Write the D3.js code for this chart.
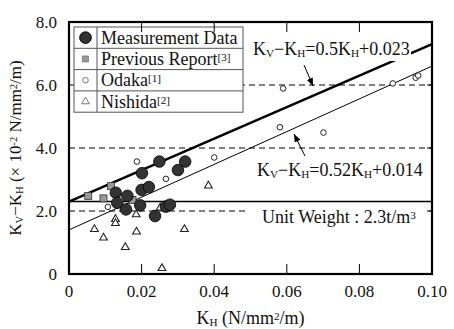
<!DOCTYPE html>
<html>
<head>
<meta charset="utf-8">
<script src="https://cdn.jsdelivr.net/npm/d3@7"></script>
<style>
  body { margin: 0; background: #fff; }
  svg text { font-family: "Liberation Serif", "Times New Roman", serif; fill: #111; }
</style>
</head>
<body>
<div id="chart"></div>
<script>
// data (x in N/mm2/m, y in 10^-2 N/mm2/m)
var measX = [0.0249, 0.0320, 0.0300, 0.0201, 0.0200, 0.0220, 0.0129, 0.0161, 0.0133, 0.0157, 0.0196, 0.0267, 0.0278, 0.0237];
var measY = [3.57, 3.57, 3.30, 3.20, 2.67, 2.76, 2.58, 2.48, 2.26, 2.05, 2.18, 2.14, 2.20, 1.84];

var prevX = [0.0053, 0.0095, 0.0116, 0.0175];
var prevY = [2.48, 2.40, 2.79, 2.35];

var odakaX = [0.0187, 0.0267, 0.0400, 0.0107, 0.0581, 0.0590, 0.0701, 0.0892, 0.0955, 0.0962];
var odakaY = [3.57, 3.02, 3.70, 2.13, 4.66, 5.89, 4.49, 6.05, 6.23, 6.30];

var nishidaX = [0.0384, 0.0251, 0.0185, 0.0128, 0.0128, 0.0070, 0.0186, 0.0318, 0.0095, 0.0155, 0.0256];
var nishidaY = [2.80, 2.10, 1.89, 1.74, 1.61, 1.42, 1.34, 1.42, 1.15, 0.85, 0.18];

// fitted lines, end points
var fitThick = [[0, 2.3], [0.1, 7.3]];
var fitThin = [[0, 1.4], [0.1, 6.6]];

var dashedLevels = [2, 4, 6];
var unitWeight = 2.3;

var xTicks = [0, 0.02, 0.04, 0.06, 0.08, 0.10];
var yTicks = [0, 2, 4, 6, 8];

var legendNames = ['Measurement Data', 'Previous Report', 'Odaka', 'Nishida'];
var legendRefs = ['', '[3]', '[1]', '[2]'];

var width = 454, height = 329;
var margin = {top: 22, right: 22, bottom: 55, left: 69};

var svg = d3.select('#chart').append('svg')
    .attr('width', width)
    .attr('height', height);

var xScale = d3.scaleLinear().domain([0, 0.1]).range([margin.left, width - margin.right]);
var yScale = d3.scaleLinear().domain([0, 8]).range([height - margin.bottom, margin.top]);

// helper: text with subscripts / superscripts
function richText(g, x, y, parts, size) {
    var t = g.append('text').attr('x', x).attr('y', y).style('font-size', size + 'px');
    parts.forEach(function(p) {
        var s = t.append('tspan').text(p.t);
        if (p.sub) s.attr('baseline-shift', '-22%').style('font-size', (size * 0.62) + 'px');
        if (p.sup) s.attr('baseline-shift', '38%').style('font-size', (size * 0.62) + 'px');
    });
    return t;
}

// reference lines
svg.append('g').selectAll('line')
    .data(dashedLevels).enter().append('line')
    .attr('x1', xScale(0)).attr('x2', xScale(0.1))
    .attr('y1', function(d) { return yScale(d); })
    .attr('y2', function(d) { return yScale(d); })
    .attr('stroke', '#000').attr('stroke-width', 1)
    .attr('stroke-dasharray', '6,4');

svg.append('line')
    .attr('x1', xScale(0)).attr('x2', xScale(0.1))
    .attr('y1', yScale(unitWeight)).attr('y2', yScale(unitWeight))
    .attr('stroke', '#000').attr('stroke-width', 1.5);

// fit lines
var line = d3.line()
    .x(function(d) { return xScale(d[0]); })
    .y(function(d) { return yScale(d[1]); });

svg.append('path').datum(fitThick).attr('d', line)
    .attr('fill', 'none').attr('stroke', '#000').attr('stroke-width', 2.5);
svg.append('path').datum(fitThin).attr('d', line)
    .attr('fill', 'none').attr('stroke', '#000').attr('stroke-width', 1);

// points
var tri = d3.symbol().type(d3.symbolTriangle).size(26);

svg.append('g').selectAll('path')
    .data(d3.range(nishidaX.length)).enter().append('path')
    .attr('d', tri)
    .attr('transform', function(i) { return 'translate(' + xScale(nishidaX[i]) + ',' + yScale(nishidaY[i]) + ')'; })
    .attr('fill', '#fff').attr('stroke', '#222').attr('stroke-width', 1.1);

svg.append('g').selectAll('circle')
    .data(d3.range(odakaX.length)).enter().append('circle')
    .attr('cx', function(i) { return xScale(odakaX[i]); })
    .attr('cy', function(i) { return yScale(odakaY[i]); })
    .attr('r', 2.8)
    .attr('fill', '#fff').attr('stroke', '#222').attr('stroke-width', 1);

svg.append('g').selectAll('rect')
    .data(d3.range(prevX.length)).enter().append('rect')
    .attr('x', function(i) { return xScale(prevX[i]) - 3.5; })
    .attr('y', function(i) { return yScale(prevY[i]) - 3.5; })
    .attr('width', 7).attr('height', 7)
    .attr('fill', '#999').attr('stroke', '#333').attr('stroke-width', 0.8);

svg.append('g').selectAll('circle')
    .data(d3.range(measX.length)).enter().append('circle')
    .attr('cx', function(i) { return xScale(measX[i]); })
    .attr('cy', function(i) { return yScale(measY[i]); })
    .attr('r', 5.8)
    .attr('fill', '#333').attr('stroke', '#000').attr('stroke-width', 0.8);

// annotations with white backing
var ann = svg.append('g');
ann.append('rect').attr('x', 250).attr('y', 32).attr('width', 161).attr('height', 29).attr('fill', '#fff');
richText(ann, 253, 55, [{t:'K'},{t:'V',sub:true},{t:'\u2212K'},{t:'H',sub:true},{t:'=0.5K'},{t:'H',sub:true},{t:'+0.023'}], 18);

richText(ann, 257, 176, [{t:'K'},{t:'V',sub:true},{t:'\u2212K'},{t:'H',sub:true},{t:'=0.52K'},{t:'H',sub:true},{t:'+0.014'}], 18);

ann.append('rect').attr('x', 245).attr('y', 206).attr('width', 183).attr('height', 22).attr('fill', '#fff');
richText(ann, 262, 223, [{t:'Unit Weight : 2.3t/m'},{t:'3',sup:true}], 18);

// arrows
svg.append('defs').append('marker')
    .attr('id', 'ah').attr('viewBox', '0 0 10 10')
    .attr('refX', 10).attr('refY', 5)
    .attr('markerWidth', 8).attr('markerHeight', 8)
    .attr('orient', 'auto')
    .append('path').attr('d', 'M0,1 L10,5 L0,9 Z').attr('fill', '#000');

svg.append('line').attr('x1', 304).attr('y1', 65).attr('x2', 313).attr('y2', 86)
    .attr('stroke', '#000').attr('stroke-width', 1).attr('marker-end', 'url(#ah)');
svg.append('line').attr('x1', 305).attr('y1', 156).attr('x2', 294).attr('y2', 134)
    .attr('stroke', '#000').attr('stroke-width', 1).attr('marker-end', 'url(#ah)');

// legend
var lg = svg.append('g');
var lgX = 74, lgY = 27, rowH = 21.3, lgW = 169, colW = 23;
lg.append('rect').attr('x', lgX).attr('y', lgY).attr('width', lgW).attr('height', rowH * 4)
    .attr('fill', '#fff').attr('stroke', '#555').attr('stroke-width', 1);
lg.selectAll('line.row').data([1, 2, 3]).enter().append('line')
    .attr('x1', lgX).attr('x2', lgX + lgW)
    .attr('y1', function(d) { return lgY + d * rowH; })
    .attr('y2', function(d) { return lgY + d * rowH; })
    .attr('stroke', '#555').attr('stroke-width', 1);
lg.append('line').attr('x1', lgX + colW).attr('x2', lgX + colW)
    .attr('y1', lgY).attr('y2', lgY + rowH * 4)
    .attr('stroke', '#555').attr('stroke-width', 1);

var mx = lgX + colW / 2;
function rowC(i) { return lgY + rowH * i + rowH / 2; }
lg.append('circle').attr('cx', mx).attr('cy', rowC(0)).attr('r', 5.8).attr('fill', '#333').attr('stroke', '#000');
lg.append('rect').attr('x', mx - 3).attr('y', rowC(1) - 3).attr('width', 6).attr('height', 6).attr('fill', '#999').attr('stroke', '#666').attr('stroke-width', 0.6);
lg.append('circle').attr('cx', mx).attr('cy', rowC(2)).attr('r', 2.8).attr('fill', '#fff').attr('stroke', '#777');
lg.append('path').attr('d', tri).attr('transform', 'translate(' + mx + ',' + rowC(3) + ')').attr('fill', '#fff').attr('stroke', '#777');

legendNames.forEach(function(n, i) {
    richText(lg, lgX + colW + 4, rowC(i) + 6, [{t:n},{t:legendRefs[i],sup:true}], 18);
});

// frame and ticks
var x0 = xScale(0), x1 = xScale(0.1), y0 = yScale(0), y1 = yScale(8);
svg.append('g').selectAll('line.xt')
    .data(xTicks.slice(1, -1)).enter().append('g')
    .each(function(d) {
        var g = d3.select(this);
        g.append('line').attr('x1', xScale(d)).attr('x2', xScale(d)).attr('y1', y0).attr('y2', y0 - 10).attr('stroke', '#000');
        g.append('line').attr('x1', xScale(d)).attr('x2', xScale(d)).attr('y1', y1).attr('y2', y1 + 10).attr('stroke', '#000');
    });
svg.append('g').selectAll('line.yt')
    .data(yTicks.slice(1, -1)).enter().append('line')
    .attr('x1', x1).attr('x2', x1 - 5)
    .attr('y1', function(d) { return yScale(d); })
    .attr('y2', function(d) { return yScale(d); })
    .attr('stroke', '#000');

svg.append('rect').attr('x', x0).attr('y', y1).attr('width', x1 - x0).attr('height', y0 - y1)
    .attr('fill', 'none').attr('stroke', '#000').attr('stroke-width', 2.2);

// tick labels
svg.append('g').selectAll('text')
    .data(xTicks).enter().append('text')
    .attr('x', function(d) { return xScale(d); })
    .attr('y', y0 + 23)
    .attr('text-anchor', 'middle')
    .style('font-size', '17px')
    .text(function(d) { return d === 0 ? '0' : d.toFixed(2); });

svg.append('g').selectAll('text')
    .data(yTicks).enter().append('text')
    .attr('x', x0 - 12)
    .attr('y', function(d) { return yScale(d) + 6; })
    .attr('text-anchor', 'end')
    .style('font-size', '17px')
    .text(function(d) { return d === 0 ? '0' : d.toFixed(1); });

// axis titles
var xt = richText(svg, 0, 0, [{t:'K'},{t:'H',sub:true},{t:' (N/mm'},{t:'2',sup:true},{t:'/m)'}], 18);
xt.attr('text-anchor', 'middle').attr('transform', 'translate(' + ((x0 + x1) / 2) + ',' + 324 + ')');

var yt = richText(svg, 0, 0, [{t:'K'},{t:'V',sub:true},{t:'\u2212K'},{t:'H',sub:true},{t:' (\u00d7 10'},{t:'-2',sup:true},{t:' N/mm'},{t:'2',sup:true},{t:'/m)'}], 17);
yt.attr('text-anchor', 'middle').attr('transform', 'translate(21,' + ((y0 + y1) / 2) + ') rotate(-90)');
</script>
</body>
</html>
